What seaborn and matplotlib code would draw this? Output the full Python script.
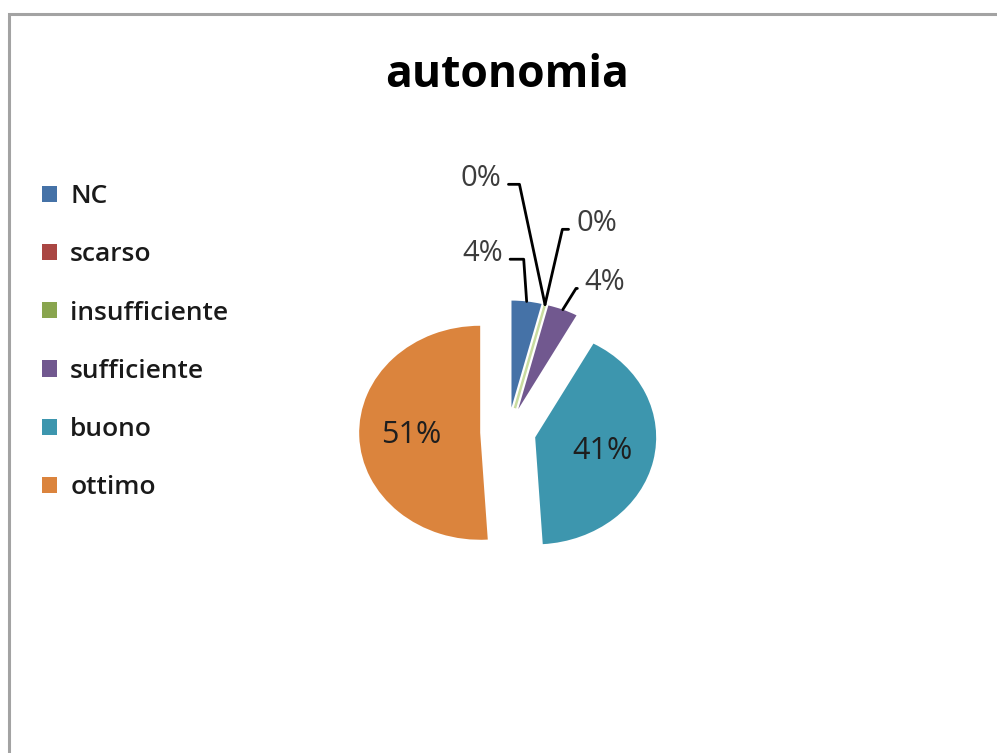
import numpy as np
import matplotlib
matplotlib.use("Agg")
import matplotlib.pyplot as plt
from matplotlib.patches import Rectangle, Patch
import seaborn as sns

# ---- data ----
categories = ["NC", "scarso", "insufficiente", "sufficiente", "buono", "ottimo"]
values = [4, 0, 0, 4, 41, 51]          # percentages as shown
title = "autonomia"

# ---- style ----
colors = ["#4572A7", "#AA4643", "#89A54E", "#71588F", "#3D96AE", "#DB843D"]
sns.set_theme(style="white")
plt.rcParams["font.family"] = ["Open Sans", "DejaVu Sans"]

W, H = 997, 753
fig = plt.figure(figsize=(W / 100, H / 100), dpi=100)
ax = fig.add_axes([0, 0, 1, 1])

# pixel geometry of the pie (centre, radii in px)
cx, cy, rx, ry = 508, 432, 121, 107
explode_amt = 0.23

wedges, texts, autotexts = ax.pie(
    values,
    colors=colors,
    startangle=90,
    counterclock=False,
    explode=[explode_amt] * len(values),
    autopct=lambda p: f"{p:.0f}%" if p >= 5 else "",
    pctdistance=0.57,
    wedgeprops=dict(linewidth=0),
    textprops=dict(fontsize=22, color="#1e1e1e"),
)
ax.set_aspect("auto")
ax.set_xlim(-cx / rx, (W - cx) / rx)
ax.set_ylim((cy - H) / ry, cy / ry)
ax.axis("off")

# zero-size slices drawn as thin lines (Excel style)
wedges[2].set_edgecolor("#C9DCA0")
wedges[2].set_linewidth(1.8)

# ---- outside labels with leader lines for small slices ----
total = float(sum(values))
cum = np.cumsum([0] + values[:-1]) / total * 360.0
label_style = {
    0: dict(offset=(-24, 48), ha="right", angleB=94),
    1: dict(offset=(-44, 126), ha="right", angleB=102),
    2: dict(offset=(31, 81), ha="left", angleB=77),
    3: dict(offset=(22, 27), ha="left", angleB=58),
}
for i, st in label_style.items():
    frac = values[i] / total * 360.0
    mid = 90 - (cum[i] + frac / 2)
    r = 1 + explode_amt
    tip = (r * np.cos(np.radians(mid)), r * np.sin(np.radians(mid)))
    ax.annotate(
        f"{values[i]:.0f}%",
        xy=tip,
        xytext=st["offset"],
        textcoords="offset pixels",
        ha=st["ha"],
        va="center",
        fontsize=21,
        color="#3c3c3c",
        arrowprops=dict(
            arrowstyle="-",
            color="black",
            lw=2.0,
            shrinkA=3,
            shrinkB=0,
            relpos=(1.0 if st["ha"] == "right" else 0.0, 0.3),
            connectionstyle=f"angle,angleA=0,angleB={st['angleB']},rad=0",
        ),
    )

# ---- title ----
fig.text(507.5 / W, 1 - 87 / H, title, ha="center", va="baseline",
         fontsize=32, fontweight="bold", color="black")

# ---- legend ----
handles = [Patch(facecolor=c, edgecolor="none") for c in colors]
fig.legend(
    handles, categories,
    loc="upper left",
    bbox_to_anchor=(42 / W, 1 - 184 / H),
    frameon=False,
    prop=dict(family=["Open Sans", "DejaVu Sans"], size=19, weight="semibold"),
    labelcolor="#1a1a1a",
    handlelength=0.57,
    handleheight=0.57,
    handletextpad=0.5,
    labelspacing=1.26,
    borderpad=0,
    borderaxespad=0,
)

# ---- chart-area border (top & left visible) ----
fig.patches.append(Rectangle((8.5 / W, -0.2), 1.5, 1.2 - 13.5 / H,
                             transform=fig.transFigure, fill=False,
                             edgecolor="#a3a3a3", linewidth=2.2))

fig.savefig("out.png", dpi=100)
